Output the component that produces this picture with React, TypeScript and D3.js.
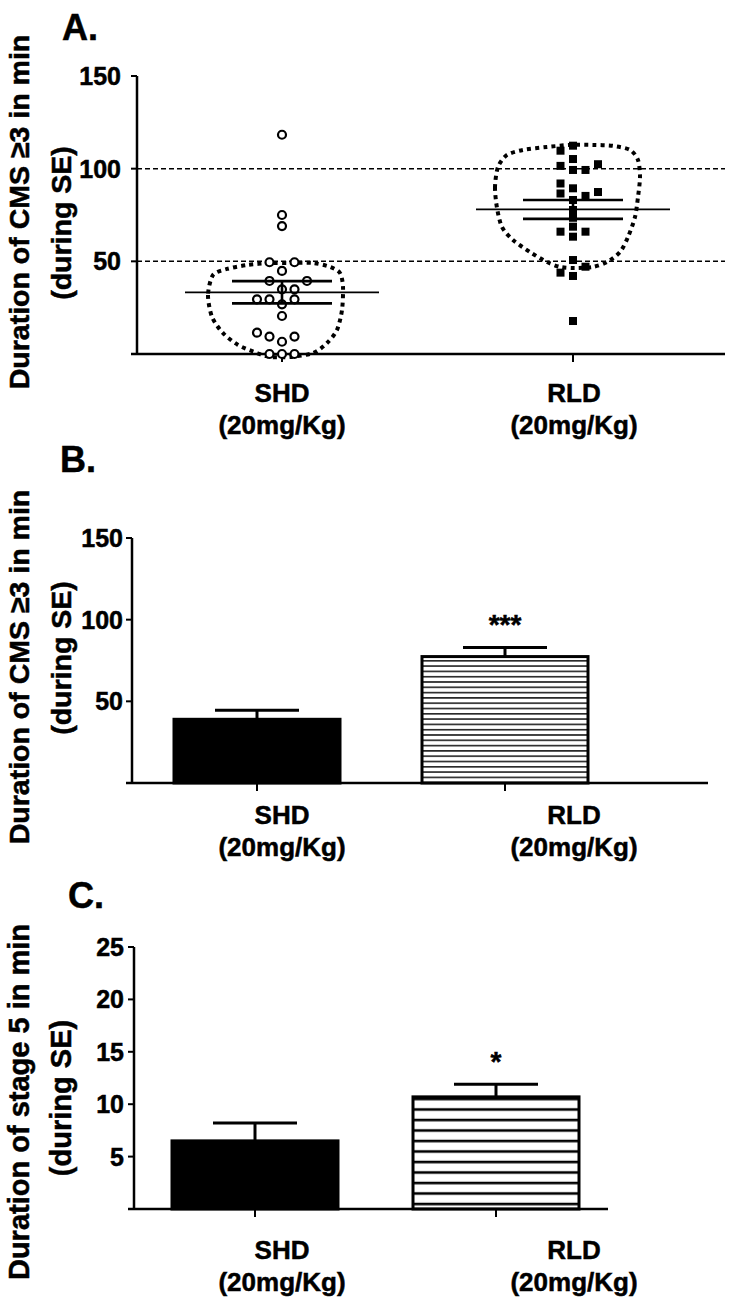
import React, { useEffect, useRef } from "react";
import * as d3 from "d3";

// ---------- DATA ----------
const categories = ["SHD", "RLD"];
const doseLabel = "(20mg/Kg)";

// Panel A: individual animals (value, jitter column)
const shdValues = [118.3, 75, 69, 49.5, 49.5, 44.8, 39.4, 39.4, 34.9, 34.9, 29.5, 29.5, 29.5, 26.8, 20.5, 11.5, 9.4, 9.4, 6.6, 0, 0, 0];
const shdColumns = [0, 0, 0, -1, 1, 0, -1, 2, 0, 1, -2, -1, 1, 0, 0, -2, -1, 1, 0, -1, 0, 1];
const rldValues = [112.4, 109.7, 105.2, 101.5, 99.3, 99.3, 102.4, 92, 86.6, 89.4, 85.3, 87.4, 83.1, 77.7, 73.5, 68.7, 66, 66, 63.3, 50.7, 43.9, 47.1, 42.1, 17.8];
const rldColumns = [0, -1, 0, -1, 0, 1, 2, -1, -1, 0, 1, 2, 0, 0, 0, 0, -1, 1, 0, 0, -1, 1, 0, 0];
const scatterMean = [33.3, 78];
const scatterSem = [6.0, 5.1];
const refLineValues = [50, 100];

// Panel A hand-drawn dotted outlines (dx from category, value)
const shdOutline: [number, number][] = [[-69, 42.6], [-74, 31.8], [-70, 20], [-59, 11.3], [-44, 4.9], [-25, 0.5], [-12, -1.6], [8, -1.6], [31, 0.5], [45, 5.9], [55, 13], [60, 23.7], [61, 36.2], [58, 43.7], [48, 47], [31, 49.1], [8, 49.1], [-12, 49.1], [-35, 48], [-55, 45.9]];
const rldOutline: [number, number][] = [[-75, 100.9], [-78, 90.1], [-76, 78.8], [-71, 68.5], [-60, 61.5], [-43, 55], [-26, 49.6], [-13, 47], [2, 46.4], [20, 47], [34, 49.6], [47, 55], [55, 63.1], [62, 73.9], [65, 84.7], [67, 95.5], [65, 104.7], [57, 110.1], [40, 112.3], [20, 112.8], [-3, 112.8], [-26, 111.7], [-50, 110.1], [-66, 107.4]];

// Panel B: CMS >=3 duration (mean, SEM)
const cmsMean = [39, 77.4];
const cmsSem = [5.5, 5.6];
// Panel C: stage 5 duration (mean, SEM)
const stageMean = [6.5, 10.7];
const stageSem = [1.7, 1.2];

const ticksAB = [50, 100, 150];
const ticksC = [5, 10, 15, 20, 25];
const significance = ["", "***"];
const significanceC = ["", "*"];

const FONT = "'Liberation Sans', Arial, Helvetica, sans-serif";

export default function App() {
  const ref = useRef<SVGSVGElement | null>(null);

  useEffect(() => {
    const svg = d3.select(ref.current);
    svg.selectAll("*").remove();

    const defs = svg.append("defs");
    const patB = defs.append("pattern").attr("id", "stripesB").attr("patternUnits", "userSpaceOnUse")
      .attr("width", 10).attr("height", 5.3).attr("y", 1);
    patB.append("rect").attr("width", 10).attr("height", 5.3).attr("fill", "#fff");
    patB.append("line").attr("x1", 0).attr("x2", 10).attr("y1", 2.6).attr("y2", 2.6).attr("stroke", "#000").attr("stroke-width", 1.4);
    const patC = defs.append("pattern").attr("id", "stripesC").attr("patternUnits", "userSpaceOnUse")
      .attr("width", 10).attr("height", 10.5).attr("y", 2);
    patC.append("rect").attr("width", 10).attr("height", 10.5).attr("fill", "#fff");
    patC.append("line").attr("x1", 0).attr("x2", 10).attr("y1", 5).attr("y2", 5).attr("stroke", "#000").attr("stroke-width", 2.6);

    const style = (t: any, size: number) =>
      t.attr("font-family", FONT).attr("font-weight", "bold").attr("font-size", size).attr("fill", "#000")
        .attr("stroke", "#000").attr("stroke-width", 0.5);

    const txt = (g: any, x: number, y: number, s: string, size: number, anchor = "middle") =>
      style(g.append("text").attr("x", x).attr("y", y).attr("text-anchor", anchor), size).text(s);

    const yLabel = (line1: string, cy1: number, cy2: number, size: number) => {
      style(svg.append("text").attr("transform", `translate(29,${cy1}) rotate(-90)`).attr("text-anchor", "middle"), size).text(line1);
      style(svg.append("text").attr("transform", `translate(71,${cy2}) rotate(-90)`).attr("text-anchor", "middle"), size).text("(during SE)");
    };

    const drawAxes = (y: d3.ScaleLinear<number, number>, ticks: number[], axisX: number, xEnd: number, xs: number[], labelGap: number) => {
      const g = svg.append("g");
      const [y0, y1] = y.range();
      g.append("line").attr("x1", axisX).attr("x2", axisX).attr("y1", y0).attr("y2", y1).attr("stroke", "#000").attr("stroke-width", 2.5);
      g.append("line").attr("x1", axisX - 6).attr("x2", xEnd).attr("y1", y0).attr("y2", y0).attr("stroke", "#000").attr("stroke-width", 2.5);
      ticks.forEach((t) => {
        g.append("line").attr("x1", axisX - 6).attr("x2", axisX).attr("y1", y(t)).attr("y2", y(t)).attr("stroke", "#000").attr("stroke-width", 2);
        txt(g, axisX - labelGap, y(t) + 9, String(t), 25, "end");
      });
      xs.forEach((x) => {
        g.append("line").attr("x1", x).attr("x2", x).attr("y1", y0).attr("y2", y0 + 8).attr("stroke", "#000").attr("stroke-width", 2);
      });
    };

    const catLabels = (yBase: number) => {
      const lx = d3.scalePoint<string>().domain(categories).range([282, 574]);
      categories.forEach((c) => {
        txt(svg, lx(c)!, yBase, c, 26);
        txt(svg, lx(c)!, yBase + 32, doseLabel, 26);
      });
    };

    // ---------------- Panel A ----------------
    const xA = d3.scalePoint<string>().domain(categories).range([282, 573]);
    const yA = d3.scaleLinear().domain([0, 150]).range([354, 76]);
    txt(svg, 62, 40, "A.", 36, "start");
    yLabel("Duration of CMS \u22653 in min", 212, 223, 28.5);

    refLineValues.forEach((v) => {
      svg.append("line").attr("x1", 137).attr("x2", 725).attr("y1", yA(v)).attr("y2", yA(v))
        .attr("stroke", "#000").attr("stroke-width", 1.5).attr("stroke-dasharray", "5,3");
    });

    const outline = (pts: [number, number][], cat: string) => {
      const line = d3.line<[number, number]>().x((d) => xA(cat)! + d[0]).y((d) => yA(d[1])).curve(d3.curveCardinalClosed.tension(0.2));
      svg.append("path").attr("d", line(pts)!).attr("fill", "none").attr("stroke", "#000")
        .attr("stroke-width", 4).attr("stroke-dasharray", "4,4.2");
    };
    outline(shdOutline, "SHD");
    outline(rldOutline, "RLD");

    drawAxes(yA, ticksAB, 137, 725, categories.map((c) => xA(c)!), 16);

    const colStep = 12.5;
    shdValues.forEach((v, i) => {
      svg.append("circle").attr("cx", xA("SHD")! + shdColumns[i] * colStep).attr("cy", yA(v)).attr("r", 4)
        .attr("fill", "#fff").attr("stroke", "#000").attr("stroke-width", 2.2);
    });
    rldValues.forEach((v, i) => {
      svg.append("rect").attr("x", xA("RLD")! + rldColumns[i] * colStep - 4).attr("y", yA(v) - 4)
        .attr("width", 8).attr("height", 8).attr("fill", "#000");
    });
    categories.forEach((c, i) => {
      const cx = xA(c)!;
      const m = scatterMean[i], s = scatterSem[i];
      svg.append("line").attr("x1", cx - 97).attr("x2", cx + 97).attr("y1", yA(m)).attr("y2", yA(m)).attr("stroke", "#000").attr("stroke-width", 1.8);
      [m + s, m - s].forEach((v) => {
        svg.append("line").attr("x1", cx - 50).attr("x2", cx + 50).attr("y1", yA(v)).attr("y2", yA(v)).attr("stroke", "#000").attr("stroke-width", 2.6);
      });
      svg.append("line").attr("x1", cx).attr("x2", cx).attr("y1", yA(m + s)).attr("y2", yA(m - s)).attr("stroke", "#000").attr("stroke-width", 2.6);
    });
    catLabels(402);

    // ---------------- Bar panels ----------------
    const barPanel = (title: string, titleX: number, titleY: number, label: string, ly1: number, ly2: number, lsize: number,
      y: d3.ScaleLinear<number, number>, ticks: number[], axisX: number, xEnd: number, range: [number, number],
      means: number[], sems: number[], stars: string[], pattern: string, gap: number, labY: number) => {
      const x = d3.scalePoint<string>().domain(categories).range(range);
      txt(svg, titleX, titleY, title, 36, "start");
      yLabel(label, ly1, ly2, lsize);
      const bw = 166;
      categories.forEach((c, i) => {
        const cx = x(c)!;
        const top = y(means[i]);
        const errTop = y(means[i] + sems[i]);
        svg.append("line").attr("x1", cx).attr("x2", cx).attr("y1", top).attr("y2", errTop).attr("stroke", "#000").attr("stroke-width", 3);
        svg.append("line").attr("x1", cx - 42).attr("x2", cx + 42).attr("y1", errTop).attr("y2", errTop).attr("stroke", "#000").attr("stroke-width", 3);
        svg.append("rect").attr("x", cx - bw / 2).attr("y", top).attr("width", bw).attr("height", y(0) - top)
          .attr("fill", i === 0 ? "#000" : `url(#${pattern})`).attr("stroke", "#000").attr("stroke-width", 3);
        if (stars[i]) txt(svg, cx, errTop - 13, stars[i], 28);
      });
      drawAxes(y, ticks, axisX, xEnd, categories.map((c) => x(c)!), gap);
      catLabels(labY);
    };

    const yB = d3.scaleLinear().domain([0, 150]).range([783, 538]);
    barPanel("B.", 60, 472, "Duration of CMS \u22653 in min", 667, 658, 28.5, yB, ticksAB, 132, 708, [257, 505], cmsMean, cmsSem, significance, "stripesB", 9, 824);

    const yC = d3.scaleLinear().domain([0, 25]).range([1209, 947]);
    barPanel("C.", 68, 908, "Duration of stage 5 in min", 1102, 1098, 29, yC, ticksC, 134, 608, [255, 496], stageMean, stageSem, significanceC, "stripesC", 10, 1259);
  }, []);

  return (
    <svg ref={ref} width={740} height={1315} style={{ position: "absolute", left: 0, top: 0, background: "#fff" }} />
  );
}
